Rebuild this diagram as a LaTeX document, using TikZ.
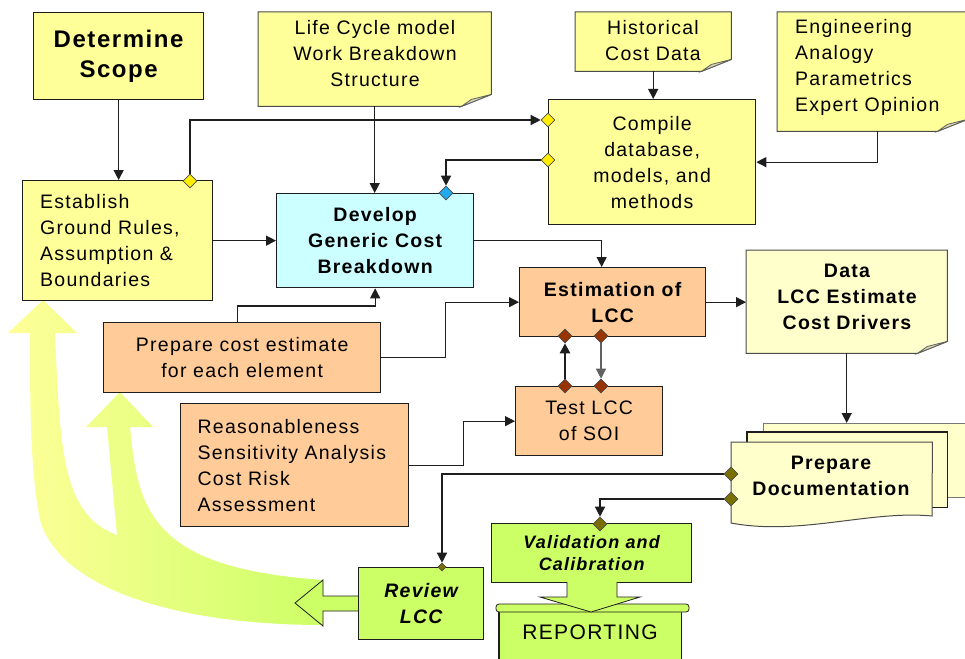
\documentclass[tikz,border=0pt]{standalone}
\usepackage{fontspec}
\setmainfont{Liberation Sans}[LetterSpace=6.5]
\usetikzlibrary{arrows.meta,shapes.geometric,backgrounds}
\definecolor{yel}{HTML}{FFFF99}
\definecolor{lyel}{HTML}{FFFFCC}
\definecolor{cya}{HTML}{CCFFFF}
\definecolor{ora}{HTML}{FFCC99}
\definecolor{grn}{HTML}{CCFF66}
\definecolor{dyel}{HTML}{FFEE00}
\definecolor{dblu}{HTML}{22AAEE}
\definecolor{dbrn}{HTML}{993300}
\definecolor{doli}{HTML}{7A7000}
\definecolor{foldc}{HTML}{D8D8B0}
\definecolor{linec}{HTML}{1E1E1E}
\newcommand\mynote[2]{%
\begin{pgfonlayer}{background}
\filldraw[fill=#2, draw=linec!80, line width=1pt] (#1.north west) -- (#1.north east) -- ([yshift=12pt]#1.south east) -- ([xshift=-30pt]#1.south east) -- (#1.south west) -- cycle;
\filldraw[fill=foldc, draw=linec!70, line width=0.8pt] ([yshift=12pt]#1.south east) -- ([xshift=-30pt]#1.south east) -- ([xshift=-20pt,yshift=7pt]#1.south east) -- cycle;
\end{pgfonlayer}}
\tikzset{
  txt/.style={inner sep=0pt, align=center, font=\fontsize{19.5}{26}\selectfont},
  box/.style={txt, draw=linec, line width=1.3pt, anchor=north west},
  notebox/.style={inner sep=0pt, anchor=north west},
  con/.style={draw=linec, line width=1.3pt},
  arr/.style={con, -{Triangle[length=10pt,width=10pt]}},
  dia/.style={shape=diamond, draw=linec!80, line width=0.6pt, inner sep=0pt, minimum width=14pt, minimum height=14pt},
  bf/.style={font=\bfseries\fontsize{19.5}{26}\selectfont},
}
\begin{document}
\begin{tikzpicture}[x=1pt,y=-1pt]
\useasboundingbox (0,0) rectangle (965,658);
\begin{pgfonlayer}{background}
\fill[white] (0,0) rectangle (965,658);
\end{pgfonlayer}

% big curved feedback band
\shade[left color=yel, right color=grn]
 (43,300) -- (77,333) -- (55,333)
 .. controls (60,450) and (62,515) .. (117,535)
 -- (107,427) -- (86,427) -- (120,392) -- (153,427) -- (130,427)
 .. controls (138,510) and (150,568) .. (323,580)
 -- (323,625)
 .. controls (180,625) and (60,590) .. (40,520)
 .. controls (30,470) and (30,400) .. (30,333)
 -- (8,333) -- cycle;

% notes
\node[notebox, minimum width=233pt, minimum height=94pt] (life) at (258,12) {};
\node[txt] (lifeT) at (375,54) {Life Cycle model\\Work Breakdown\\Structure};
\mynote{life}{yel}
\node[notebox, minimum width=156pt, minimum height=59pt] (hist) at (575,12) {};
\node[txt] (histT) at (653,41) {Historical\\Cost Data};
\mynote{hist}{yel}
\node[notebox, minimum width=190pt, minimum height=119pt] (eng) at (777,12) {};
\node[txt, align=left, anchor=west] (engT) at (795,67) {Engineering\\Analogy\\Parametrics\\Expert Opinion};
\mynote{eng}{yel}
\node[notebox, minimum width=201pt, minimum height=103pt] (data) at (746,250) {};
\node[txt, bf] (dataT) at (847,297) {Data\\LCC Estimate\\Cost Drivers};
\mynote{data}{lyel}

% boxes
\node[box, fill=yel, minimum width=170pt, minimum height=87pt, font=\bfseries\fontsize{24}{30}\selectfont] (scope) at (33,12) {Determine\\Scope};
\node[box, fill=yel, minimum width=190pt, minimum height=120pt, text width=155pt, align=left] (estab) at (22,180) {Establish\\Ground Rules,\\Assumption \&\\Boundaries};
\node[box, fill=cya, bf, minimum width=197pt, minimum height=94pt] (dev) at (276,193) {Develop\\Generic Cost\\Breakdown};
\node[box, fill=yel, minimum width=207pt, minimum height=125pt] (comp) at (548,99) {Compile\\database,\\models, and\\methods};
\node[box, fill=ora, bf, minimum width=186pt, minimum height=69pt] (est) at (519,267) {Estimation of\\LCC};
\node[box, fill=ora, minimum width=277pt, minimum height=70pt] (prep) at (103,322) {Prepare cost estimate\\for each element};
\node[box, fill=ora, minimum width=228pt, minimum height=123pt, text width=194pt, align=left] (reas) at (180,403) {Reasonableness\\Sensitivity Analysis\\Cost Risk\\Assessment};
\node[box, fill=ora, minimum width=147pt, minimum height=69pt] (test) at (515,386) {Test LCC\\of SOI};

% prepare documentation stack
\node[notebox, minimum width=202pt, minimum height=74pt] (docA) at (763,423) {};
\node[notebox, minimum width=200pt, minimum height=75pt] (docB) at (747,432) {};
\node[notebox, minimum width=201pt, minimum height=80pt] (docC) at (731,442) {};
\filldraw[fill=lyel, draw=linec!60, line width=0.8pt] (docA.south west) rectangle (docA.north east);
\filldraw[fill=lyel, draw=linec, line width=1.6pt] (docB.south west) rectangle (docB.north east);
\filldraw[fill=lyel, draw=linec!80, line width=1pt] (docC.north west) -- (docC.north east) -- (932,516)
 .. controls (870,510) and (800,536) .. (731,523) -- cycle;
\node[txt, bf] (docT) at (831,476) {Prepare\\Documentation};

% validation, reporting, review
\node[box, fill=grn, minimum width=200pt, minimum height=59pt, font=\bfseries\itshape\fontsize{18}{22}\selectfont] (val) at (491,523) {Validation and\\Calibration};
\node[notebox, minimum width=182pt, minimum height=60pt] (rep) at (499,608) {};
\filldraw[fill=grn, draw=linec, line width=1.2pt] (rep.north west) rectangle (rep.south east);
\filldraw[fill=grn, draw=linec, line width=0.8pt, rounded corners=3pt] (496,604) rectangle (689,612);
\fill[grn] (567,580) -- (567,597) -- (540,597) -- (591,612) -- (640,597) -- (617,597) -- (617,580) -- cycle;
\draw[linec, line width=0.8pt] (567,582) -- (567,597) -- (540,597) -- (591,612) -- (640,597) -- (617,597) -- (617,582);
\node[txt, font=\fontsize{21}{26}\selectfont] (repT) at (590,632) {REPORTING};
\filldraw[fill=grn, draw=linec, line width=0.8pt] (358,596) -- (323,596) -- (323,580) -- (295,603) -- (323,626) -- (323,611) -- (358,611);
\node[box, fill=grn, minimum width=125pt, minimum height=72pt, font=\bfseries\itshape\fontsize{19.5}{26}\selectfont] (rev) at (358,567) {Review\\LCC};

% diamonds
\node[dia, fill=dyel] (d1) at (190,181) {};
\node[dia, fill=dyel] (d2) at (548,120) {};
\node[dia, fill=dyel] (d3) at (548,160) {};
\node[dia, fill=dblu] (d4) at (446,193) {};
\node[dia, fill=dbrn] (d5) at (565,336) {};
\node[dia, fill=dbrn] (d6) at (601,336) {};
\node[dia, fill=dbrn] (d7) at (565,386) {};
\node[dia, fill=dbrn] (d8) at (601,386) {};
\node[dia, fill=doli] (d9) at (731,474) {};
\node[dia, fill=doli] (d10) at (731,499) {};
\node[dia, fill=doli] (d11) at (600,524) {};
\node[dia, fill=doli, minimum width=8pt, minimum height=8pt] (d12) at (442,567) {};

% connectors
\draw[arr] (scope.south) -- (scope.south |- estab.north);
\draw[arr] (d1.north) |- (d2.west);
\draw[arr] (life.south) -- (life.south |- dev.north);
\draw[arr] (hist.south) -- (hist.south |- comp.north);
\draw[arr] ([xshift=5pt]eng.south) |- (comp.east);
\draw[arr] (d3.west) -| (d4.north);
\draw[arr] (estab.east) -- (estab.east -| dev.west);
\draw[arr] (dev.east) -| ([xshift=-11pt]est.north);
\draw[arr] ([xshift=-5pt]prep.north) -- ++(0,-16) -| (dev.south);
\draw[arr] (prep.east) -- ++(64,0) |- (est.west);
\draw[arr] (est.east) -- (est.east -| data.west);
\draw[arr] (data.south) -- (data.south |- docA.north);
\draw[arr, line width=2.4pt] (d7.north) -- (d5.south);
\draw[arr, draw=linec!70] (d6.south) -- (d8.north);
\draw[arr] (reas.east) -- ++(54,0) |- (test.west);
\draw[arr] (d9.west) -| (d12.north);
\draw[arr] (d10.west) -| (d11.north);
\end{tikzpicture}
\end{document}
